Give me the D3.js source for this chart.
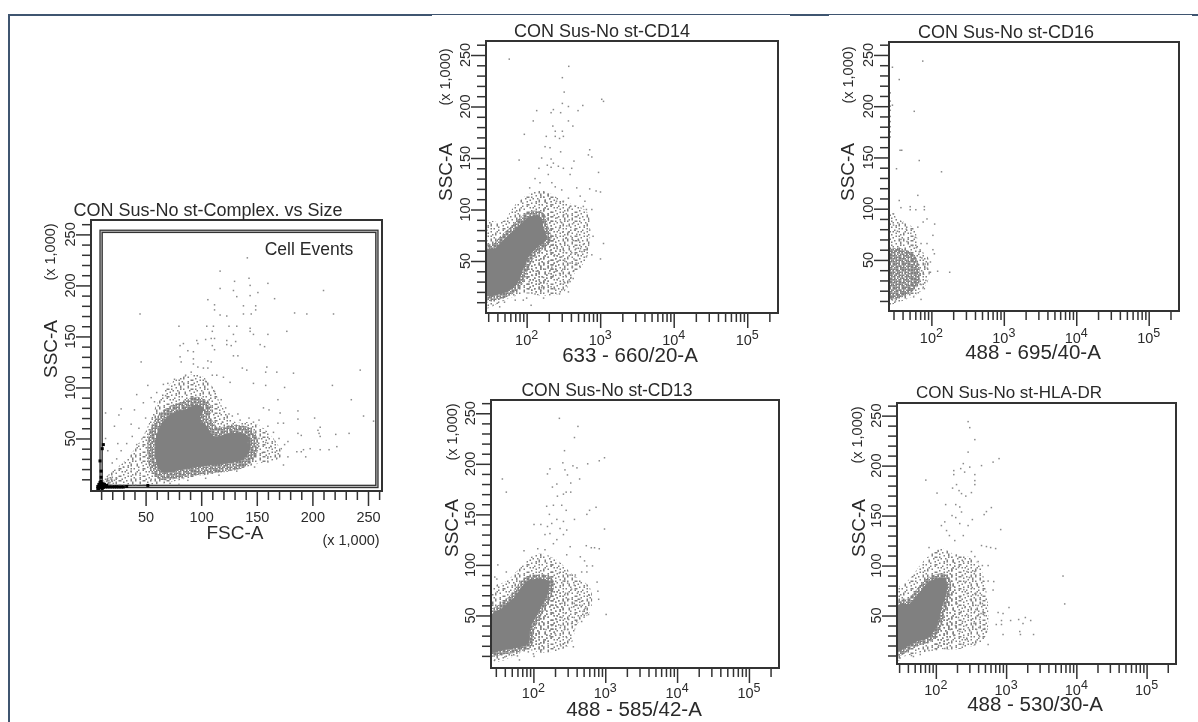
<!DOCTYPE html>
<html>
<head>
<meta charset="utf-8">
<script src="https://cdn.jsdelivr.net/npm/d3@7"></script>
<style>
  html, body { margin: 0; padding: 0; background: #fff; }
  svg { display: block; filter: blur(0.4px); }
  text { font-family: "Liberation Sans", Arial, sans-serif; fill: #2a2a2a; }
</style>
</head>
<body>
<div id="app"></div>
<script>
// chart text
const sizeTitle = 'CON Sus-No st-Complex. vs Size'
const cd14Title = 'CON Sus-No st-CD14'
const cd16Title = 'CON Sus-No st-CD16'
const cd13Title = 'CON Sus-No st-CD13'
const hlaTitle = 'CON Sus-No st-HLA-DR'
const ssc_label = 'SSC-A'
const scale_note = '(x 1,000)'
const gate_label = 'Cell Events'

// tick values
const linear_ticks = d3.range(10, 261, 10)
const linear_labels = [50, 100, 150, 200, 250]
const log_ticks = [30, 40, 50, 60, 70, 80, 90, 100, 200, 300, 400, 500, 600, 700, 800, 900, 1000, 2000, 3000, 4000, 5000, 6000, 7000, 8000, 9000, 10000, 20000, 30000, 40000, 50000, 60000, 70000, 80000, 90000, 100000, 200000]
const log_labels = [100, 1000, 10000, 100000]

// gate on the size plot, x then y range
const gate_x = [10, 258]
const gate_y = [3, 253]

// FSC-A vs SSC-A (x 1,000)
const size_outline = [[10.5,7.5],[18,16],[33,30],[48,53],[55,70],[61,86],[70,101],[81,110],[99,112],[110,101],[119,81],[131,66],[143,66],[156,60],[170,42],[172,32],[150,25],[126,18],[96,13],[66,6],[36,4],[15,3]]
const size_core = [[60,53],[67,68],[75,75],[87,79],[96,83],[102,79],[99,70],[105,62],[112,52],[125,55],[141,53],[144,40],[136,29],[117,25],[96,22],[75,18],[66,17],[61,22],[59,32]]
const size_points = [[141.5,227],[117,214],[117,197],[130,204],[143,207],[160,202],[210,195],[129,195],[144,200],[151,193],[132,189],[144,190],[166,187],[106,186],[112,181],[149,180],[138,180],[112,176],[149,176],[138,172],[145,172],[184,173],[195,172],[219,172],[45,172],[117,171],[123,170],[80,160],[105,160],[111,160],[125,160],[132,160],[144,158],[177,155],[144,155],[110,155],[129,152],[147,152],[160,152],[96,146],[104,147],[109,148],[112,148],[123,146],[131,145],[84,143],[81,141],[97,143],[110,141],[123,142],[127,141],[153,142],[157,140],[88,136],[93,135],[112,137],[81,130],[93,128],[129,131],[133,131],[46,125],[82,125],[93,123],[106,126],[109,125],[97,120],[102,119],[106,119],[137,119],[141,117],[159,120],[158,115],[168,115],[183,114],[243,117],[91,115],[114,112],[120,110],[52,102],[147,104],[158,102],[175,100],[218,102],[126,105],[42,93],[169,88],[235,88],[156,80],[161,78],[187,77],[171,75],[28,79],[14,75],[26,73],[133,74],[202,70],[246,72],[255,67],[187,69],[169,65],[174,65],[207,61],[205,58],[206,55],[207,52],[221,54],[233,55],[187,55],[190,53],[222,42],[207,39],[215,39],[198,40],[192,39],[186,37],[190,37],[194,32],[178,32],[174,24],[14,50],[25,45],[16,38],[22,62],[37,64],[40,78],[48,85],[55,90],[60,95],[66,103],[68,92],[50,70],[44,60],[38,52],[33,45],[42,44],[28,38],[24,30],[20,26],[30,22],[37,18],[45,14],[55,10],[72,6],[80,5],[88,9],[104,11],[116,14],[132,18],[148,22],[160,27],[172,40],[175,44],[178,47],[170,50],[165,56],[160,62],[152,68],[147,66],[143,70],[135,68],[128,72],[122,80],[118,88],[112,96],[104,106],[110,112],[86,112],[76,108],[70,104],[58,86],[65,74],[119,66],[125,74],[112,70],[108,65],[116,60],[100,66],[106,74],[110,56],[118,55],[126,58],[134,56],[145,55],[152,50],[158,46],[163,42],[140,30],[146,34],[155,36],[160,32],[148,42],[142,46],[14,5],[16,6],[18,7],[20,8],[15,8],[17,9],[19,10],[14,10],[16,11],[21,6],[13,7],[18,5],[22,9],[20,12],[24,11]]
const size_black = [[7,1],[8,1],[9,2],[10,3],[11,1],[12,2],[13,3],[7,3],[9,4],[10,5],[11,6],[12,5],[8,5],[9,7],[10,8],[11,3],[13,5],[14,2.5],[15,4],[16,2.5],[18,2.5],[20,2.5],[22,2.5],[24,2.5],[26,2.5],[28,2.5],[30,2.5],[33,3],[10,18],[11,40],[12,44],[10,12],[9,28],[52,4]]

// 633 - 660/20-A vs SSC-A
const cd14_outline = [[28,88],[46,88],[73,106],[123,117],[197,116],[219,98],[231,79],[285,49],[152,20],[90,18],[59,14],[33,5.5],[28,4]]
const cd14_lobe = [[169,117],[316,108],[655,98],[730,79],[655,53],[432,36],[316,20],[123,18],[90,33],[169,70]]
const cd14_core = [[28,61],[37,62],[51,72],[66,79],[86,87],[111,93],[152,93],[169,82],[187,72],[144,64],[111,56],[90,43],[77,30],[59,22],[39,17],[28,17]]
const cd14_points = [[58,246],[374,239],[306,228],[324,214],[1050,207],[1110,205],[306,203],[370,200],[580,201],[500,196],[231,197],[137,196],[215,194],[290,194],[123,186],[370,186],[227,181],[425,181],[93,173],[245,176],[306,176],[185,171],[245,171],[316,171],[280,169],[178,161],[208,160],[720,158],[692,153],[770,151],[290,156],[79,148],[160,150],[215,149],[440,147],[231,145],[191,143],[270,142],[316,140],[147,140],[215,141],[950,136],[410,140],[390,134],[130,130],[197,134],[220,126],[245,122],[152,126],[110,121],[300,119],[480,121],[720,120],[880,118],[1010,117],[535,113],[370,111],[620,108],[590,103],[650,100],[770,100],[390,103],[316,108],[255,108],[720,80],[800,74],[1110,67],[590,66],[640,61],[565,59],[770,56],[650,54],[1010,52],[535,44],[430,33],[390,30],[370,20],[300,22],[170,14],[115,7],[90,12],[43,5.5],[35,7],[260,92],[290,88],[320,95],[350,84],[380,90],[420,86],[450,80],[480,76],[510,70],[540,62],[470,62],[430,70],[400,74],[370,78],[340,72],[310,78],[280,82],[250,74],[230,66],[260,62],[290,66],[320,60],[350,58],[380,64],[410,58],[440,52],[470,48],[500,56],[420,44],[390,48],[360,46],[330,50],[300,54],[270,50],[240,56],[210,60],[200,50],[220,44],[250,40],[280,38],[310,42],[340,36],[370,38],[400,34],[430,40],[320,30],[290,28],[260,32],[230,36],[200,38],[180,42],[170,34],[190,28],[215,25],[150,30],[160,24],[135,40],[120,36],[108,30],[240,23],[280,18],[130,18],[100,14],[70,12],[50,10],[40,9]]

// 488 - 695/40-A vs SSC-A
const cd16_outline = [[27,97],[35,90],[57,81],[70,61],[92,51],[92,32],[70,19],[46,12],[30,7],[27,6]]
const cd16_core = [[27,58],[51,56],[63,45],[65,29],[51,20],[33,14],[27,14]]
const cd16_points = [[76,244],[29,238],[36,226],[58,195],[27,213],[27,205],[27,200],[27,196],[27,190],[27,185],[27,180],[27,175],[27,170],[29,201],[37,157],[39,157],[68,147],[33,139],[138,136],[65,113],[36,108],[38,101],[51,102],[51,99],[61,99],[80,102],[80,99],[30,95],[87,90],[77,87],[111,85],[65,82],[105,74],[87,66],[72,66],[105,60],[110,56],[97,48],[122,39],[179,38],[97,38],[72,11.5],[57,14],[32,10],[29,11],[40,86],[45,80],[34,78],[52,76],[60,72],[38,70],[46,68],[30,84],[55,64],[62,62],[68,58],[74,52],[82,46],[88,42],[78,36],[84,30],[72,26],[80,22],[66,18]]

// 488 - 585/42-A vs SSC-A
const cd13_outline = [[27,77],[42,84],[65,97],[111,111],[180,107],[190,84],[262,67],[212,37],[138,18],[72,14],[47,8],[28,5]]
const cd13_lobe = [[180,107],[362,90],[617,77],[617,54],[404,41],[325,21],[111,14],[90,31],[162,70]]
const cd13_core = [[27,51],[36,57],[53,67],[72,80],[90,85],[162,84],[162,74],[124,57],[90,37],[85,23],[59,18],[38,16],[27,14]]
const cd13_points = [[230,245],[417,237],[373,226],[271,213],[977,206],[826,203],[257,201],[355,198],[570,200],[404,196],[275,194],[298,189],[170,195],[157,190],[440,185],[37,185],[42,172],[212,180],[331,181],[184,177],[286,172],[262,170],[216,168],[331,172],[248,159],[190,159],[153,158],[286,154],[745,157],[605,154],[555,150],[167,150],[102,140],[127,140],[373,145],[977,135.5],[212,145],[180,141],[157,138],[262,143],[235,136],[291,134.5],[170,131],[145,130],[262,130],[545,119],[640,117],[710,117],[826,116],[325,118],[190,121],[212,125],[145,115],[115,116],[291,110],[450,108],[515,104],[555,99],[665,99],[32,100],[42,93],[29,88],[31,86],[74,114],[470,93],[555,93],[383,90],[325,90],[770,83],[790,74],[810,66],[600,70],[1030,51],[470,44],[490,54],[585,51],[525,57],[470,64],[360,19],[291,28],[262,22],[240,20],[102,9.5],[64,6],[50,10.5],[29,6],[230,92],[260,84],[300,82],[340,76],[370,80],[410,72],[440,66],[480,60],[510,50],[540,52],[440,48],[400,60],[370,62],[340,58],[310,66],[280,72],[250,62],[220,58],[250,48],[280,52],[310,46],[340,42],[370,48],[400,44],[300,36],[270,36],[240,40],[210,46],[190,52],[180,40],[200,32],[230,28],[170,30],[150,36],[140,26],[120,28],[160,22],[130,16],[100,12],[85,14],[60,10],[40,9]]

// 488 - 530/30-A vs SSC-A
const hla_outline = [[29,77],[43,87],[66,104],[114,117],[180,110],[186,84],[207,57],[176,27],[102,16],[53,12],[32,7.5],[29,4]]
const hla_lobe = [[176,110],[378,104],[525,74],[525,31],[378,21],[114,17],[82,30],[150,70]]
const hla_core = [[29,60],[43,62],[56,71],[82,84],[134,87],[142,74],[120,57],[108,44],[82,29],[53,24],[38,19],[29,14]]
const hla_points = [[288,244],[304,238],[359,226],[288,213.5],[794,207],[653,203.5],[447,200],[246,202],[304,198.5],[226,197],[257,193.5],[180,195],[180,191],[359,191],[359,185],[359,181],[72,185.5],[104,172.5],[197,181],[173,177.5],[214,175],[232,172],[321,173],[267,169.5],[138,161],[192,161],[219,158.6],[232,153.6],[617,158],[525,154],[487,151],[331,146],[838,136],[170,150],[192,148],[134,143.7],[120,140],[219,142],[288,140],[142,135],[156,130],[186,125],[246,130],[447,120],[525,119],[603,118],[710,117],[80,118],[108,115],[321,114],[359,109],[400,104],[460,100],[555,100],[246,104],[277,94],[359,94],[555,84.5],[667,84],[653,75.5],[380,82],[6460,89.5],[6830,61.6],[1100,58],[770,53],[905,52],[1160,45],[860,45],[725,41],[860,41],[905,31],[1510,46],[1880,48],[2240,45],[1740,42],[1565,34],[1600,31],[2460,31],[555,21],[359,21],[420,29],[525,34],[495,37],[420,46],[470,54],[359,54],[447,70.6],[400,60],[219,24],[246,21],[134,17],[102,16],[48,9],[31,7.5],[38,14],[210,98],[240,90],[270,84],[300,88],[330,78],[360,72],[400,70],[430,66],[460,62],[490,50],[440,52],[400,50],[370,56],[340,60],[310,66],[280,72],[250,76],[220,68],[200,62],[230,54],[260,58],[290,50],[320,46],[350,42],[380,36],[410,38],[300,36],[270,40],[240,44],[210,48],[190,40],[220,34],[250,28],[280,26],[180,30],[160,36],[150,26],[130,22],[110,20],[80,15],[60,11],[45,10]]

// layout of the five plots
const panels = [
  { id: 'size', title: sizeTitle, x_label: 'FSC-A', outline: size_outline, core: size_core, points: size_points, black: size_black,
    log: false, left: 91, right: 382, top: 220, bottom: 491, x_domain: [1, 262.6], y_top: 222, y_zero: 489.5,
    title_at: [208, 216], title_size: 18, ssc_at: [57, 349], note_at: [55, 252], label_at: [235, 539], label_size: 19, tick_base: 522, core_fill: '#808080', edge: 16 },
  { id: 'cd14', title: cd14Title, x_label: '633 - 660/20-A', outline: cd14_outline, lobe: cd14_lobe, core: cd14_core, points: cd14_points,
    log: true, left: 486, right: 778, top: 41, bottom: 313, x_domain: [28, 262144], y_top: 42.5, y_zero: 312.5,
    title_at: [602, 37], title_size: 18, ssc_at: [452, 172], note_at: [450, 77], label_at: [630, 362], label_size: 20.5, tick_base: 345, core_fill: '#808080', edge: 10 },
  { id: 'cd16', title: cd16Title, x_label: '488 - 695/40-A', outline: cd16_outline, core: cd16_core, points: cd16_points,
    log: true, left: 889, right: 1179, top: 42, bottom: 311, x_domain: [26, 262144], y_top: 42.5, y_zero: 311.2,
    title_at: [1006, 38], title_size: 18, ssc_at: [854, 172], note_at: [853, 75], label_at: [1033, 359], label_size: 20.5, tick_base: 343, core_fill: 'url(#speckle_dense)', edge: 4 },
  { id: 'cd13', title: cd13Title, x_label: '488 - 585/42-A', outline: cd13_outline, lobe: cd13_lobe, core: cd13_core, points: cd13_points,
    log: true, left: 491, right: 779, top: 400, bottom: 668, x_domain: [25.7, 262144], y_top: 401, y_zero: 666,
    title_at: [607, 396], title_size: 17.5, ssc_at: [458, 528], note_at: [457, 432], label_at: [634, 716], label_size: 20.5, tick_base: 698, core_fill: '#808080', edge: 9 },
  { id: 'hla', title: hlaTitle, x_label: '488 - 530/30-A', outline: hla_outline, lobe: hla_lobe, core: hla_core, points: hla_points,
    log: true, left: 897, right: 1176, top: 403, bottom: 664, x_domain: [28, 262144], y_top: 403.5, y_zero: 665.5,
    title_at: [1009, 398], title_size: 17, ssc_at: [865, 528], note_at: [862, 435], label_at: [1035, 711], label_size: 20.5, tick_base: 695, core_fill: '#808080', edge: 9 }
]

const line_color = '#333'
const frame_color = '#3f5570'
const dot_color = '#808080'

const svg = d3.select('#app').append('svg')
  .attr('width', 1198)
  .attr('height', 722)

// speckle texture for the areas too crowded to read event by event
const speckles = {
  speckle_sparse: [
    'x...x..x..x....x',
    '..x.....x....x..',
    '.....x..x....x..',
    'x.x.....x.x....x',
    '...x..x.......x.',
    '.x.....x...x....',
    '.....x.x...x...x',
    '..x..x......x...',
    'x......x.x.....x',
    '....x.......x..x',
    '.x.x...x...x....',
    '.....x....x..x..',
    '..x.....x.x.....',
    'x....x.x.......x',
    '...x.....x...x..',
    '.x.....x..x..x..'
  ],
  speckle_dense: [
    'xx.xxx.x.xxx.xx.',
    'x.xx.xxxx.x.xxxx',
    'xxx.x.x.xxxx.x.x',
    '.x.xxxx.xx.xxxx.',
    'xx.x.xxx.xxx.x.x',
    'x.xxx.x.xx.xxx.x',
    'xxxx.xxx.x.x.xxx',
    '.xx.xx.xxxx.xx.x',
    'x.xxx.xx.x.xxxx.',
    'xxx.x.x.xxx.x.xx',
    'x.xxxx.xx.xxxx.x',
    '.xx.x.xxx.x.xxxx',
    'xx.xxx.x.xxx.x.x',
    'x.xx.xxxxx.xxx.x',
    'xxx.xx.x.xx.x.xx',
    '.x.xxxxx.xxxx.x.'
  ]
}
const defs = svg.append('defs')
Object.entries(speckles).forEach(([name, rows]) => {
  const pattern = defs.append('pattern')
    .attr('id', name)
    .attr('patternUnits', 'userSpaceOnUse')
    .attr('width', rows[0].length * 1.5)
    .attr('height', rows.length * 1.5)
  rows.forEach((row, r) => {
    row.split('').forEach((cell, c) => {
      if (cell === 'x') {
        pattern.append('rect')
          .attr('x', c * 1.5).attr('y', r * 1.5)
          .attr('width', 1.5).attr('height', 1.5)
          .attr('fill', dot_color)
      }
    })
  })
})

// page frame
svg.append('rect').attr('x', 8).attr('y', 14).attr('width', 2).attr('height', 708).attr('fill', frame_color)
svg.append('rect').attr('x', 8).attr('y', 14).attr('width', 424).attr('height', 2).attr('fill', frame_color)
svg.append('rect').attr('x', 432).attr('y', 14).attr('width', 766).attr('height', 1).attr('fill', frame_color)
svg.append('rect').attr('x', 790).attr('y', 14).attr('width', 39).attr('height', 2).attr('fill', frame_color)
svg.append('rect').attr('x', 1192).attr('y', 14).attr('width', 6).attr('height', 2).attr('fill', frame_color)

panels.forEach((p) => {
  const g = svg.append('g')

  // scales
  const x_scale = p.log
    ? d3.scaleLog().domain(p.x_domain).range([p.left, p.right])
    : d3.scaleLinear().domain([0, 262.6]).range([90, p.right])
  const y_scale = d3.scaleLinear().domain([0, 262.144]).range([p.y_zero, p.y_top])

  const area = d3.line()
    .x((d) => x_scale(d[0]))
    .y((d) => y_scale(d[1]))
    .curve(d3.curveCatmullRomClosed.alpha(0.5))

  // the size plot has a gate, drawn as a double line under the events
  if (!p.log) {
    const gx0 = x_scale(gate_x[0])
    const gx1 = x_scale(gate_x[1])
    const gy0 = y_scale(gate_y[1])
    const gy1 = y_scale(gate_y[0])
    const gate = g.append('g')
    gate.append('rect').attr('x', gx0).attr('y', gy0)
      .attr('width', gx1 - gx0).attr('height', gy1 - gy0)
      .attr('fill', 'none').attr('stroke', line_color).attr('stroke-width', 3.5)
    gate.append('rect').attr('x', gx0).attr('y', gy0)
      .attr('width', gx1 - gx0).attr('height', gy1 - gy0)
      .attr('fill', 'none').attr('stroke', '#bbb').attr('stroke-width', 1)
    g.append('text')
      .attr('x', 309).attr('y', 255)
      .attr('text-anchor', 'middle').attr('font-size', 17.5)
      .text(gate_label)
    g.append('text')
      .attr('x', 351).attr('y', 545)
      .attr('text-anchor', 'middle').attr('font-size', 14.5)
      .text(scale_note)
  }

  defs.append('clipPath').attr('id', `clip_${p.id}`)
    .append('rect').attr('x', p.left).attr('y', p.top)
    .attr('width', p.right - p.left).attr('height', p.bottom - p.top)
  const marks = g.append('g').attr('clip-path', `url(#clip_${p.id})`)

  // speckled edge and solid core of the population
  marks.append('path').attr('d', area(p.outline)).attr('fill', 'url(#speckle_sparse)')
  if (p.lobe) {
    marks.append('path').attr('d', area(p.lobe)).attr('fill', 'url(#speckle_sparse)')
  }
  marks.append('path').attr('d', area(p.core))
    .attr('fill', p.core_fill)
    .attr('stroke', 'url(#speckle_dense)')
    .attr('stroke-width', p.edge)
    .attr('stroke-linejoin', 'round')
  if (p.core_fill === dot_color) {
    marks.append('path').attr('d', area(p.core)).attr('fill', dot_color)
  }

  // single events
  marks.selectAll('.dot').data(p.points).join('rect')
    .attr('x', (d) => x_scale(d[0]) - 0.75)
    .attr('y', (d) => y_scale(d[1]) - 0.75)
    .attr('width', 1.5)
    .attr('height', 1.5)
    .attr('fill', '#8a8a8a')

  if (p.black) {
    marks.selectAll('.black').data(p.black).join('rect')
      .attr('x', (d) => x_scale(d[0]) - 1.5)
      .attr('y', (d) => y_scale(d[1]) - 1.5)
      .attr('width', 3)
      .attr('height', 3)
      .attr('fill', '#000')
  }

  // plot box
  g.append('rect').attr('x', p.left).attr('y', p.top)
    .attr('width', p.right - p.left).attr('height', p.bottom - p.top)
    .attr('fill', 'none').attr('stroke', line_color).attr('stroke-width', 2)

  // x axis
  const x_axis = d3.axisBottom(x_scale)
    .tickValues(p.log ? log_ticks : linear_ticks)
    .tickSizeOuter(0)
    .tickFormat((d) => !p.log && linear_labels.includes(d) ? d : '')
  const x_g = g.append('g').attr('transform', `translate(0,${p.bottom})`).call(x_axis)
  x_g.select('.domain').remove()
  x_g.selectAll('.tick line')
    .attr('stroke', line_color).attr('stroke-width', 1.5)
    .attr('y2', (d) => (p.log ? log_labels.includes(d) : linear_labels.includes(d)) ? 15 : 9)
  x_g.selectAll('.tick text').filter(function () { return this.textContent === '' }).remove()
  x_g.selectAll('.tick text')
    .attr('y', p.tick_base - p.bottom).attr('dy', 0)
    .attr('font-size', 14.5).style('font-family', '"Liberation Sans", Arial, sans-serif').attr('fill', '#2a2a2a')

  // powers of ten on the log axes
  if (p.log) {
    log_labels.forEach((v) => {
      const t = g.append('text')
        .attr('x', x_scale(v))
        .attr('y', p.tick_base)
        .attr('text-anchor', 'middle')
        .attr('font-size', 14.5)
        .text('10')
      t.append('tspan')
        .attr('dy', -6)
        .attr('font-size', 12.5)
        .text(Math.log10(v))
    })
  }

  // y axis
  const y_axis = d3.axisLeft(y_scale)
    .tickValues(linear_ticks)
    .tickSizeOuter(0)
    .tickFormat('')
  const y_g = g.append('g').attr('transform', `translate(${p.left},0)`).call(y_axis)
  y_g.select('.domain').remove()
  y_g.selectAll('.tick text').remove()
  y_g.selectAll('.tick line')
    .attr('stroke', line_color).attr('stroke-width', 1.5)
    .attr('x2', (d) => linear_labels.includes(d) ? -15 : -9)
  linear_labels.forEach((v) => {
    g.append('text')
      .attr('transform', `translate(${p.left - 16},${y_scale(v)}) rotate(-90)`)
      .attr('text-anchor', 'middle')
      .attr('font-size', 14.5)
      .text(v)
  })

  // titles and axis names
  g.append('text')
    .attr('x', p.title_at[0]).attr('y', p.title_at[1])
    .attr('text-anchor', 'middle').attr('font-size', p.title_size)
    .text(p.title)
  g.append('text')
    .attr('x', p.label_at[0]).attr('y', p.label_at[1])
    .attr('text-anchor', 'middle').attr('font-size', p.label_size)
    .text(p.x_label)
  g.append('text')
    .attr('transform', `translate(${p.ssc_at[0]},${p.ssc_at[1]}) rotate(-90)`)
    .attr('text-anchor', 'middle').attr('font-size', 19)
    .text(ssc_label)
  g.append('text')
    .attr('transform', `translate(${p.note_at[0]},${p.note_at[1]}) rotate(-90)`)
    .attr('text-anchor', 'middle').attr('font-size', 14.5)
    .text(scale_note)
})
</script>
</body>
</html>
